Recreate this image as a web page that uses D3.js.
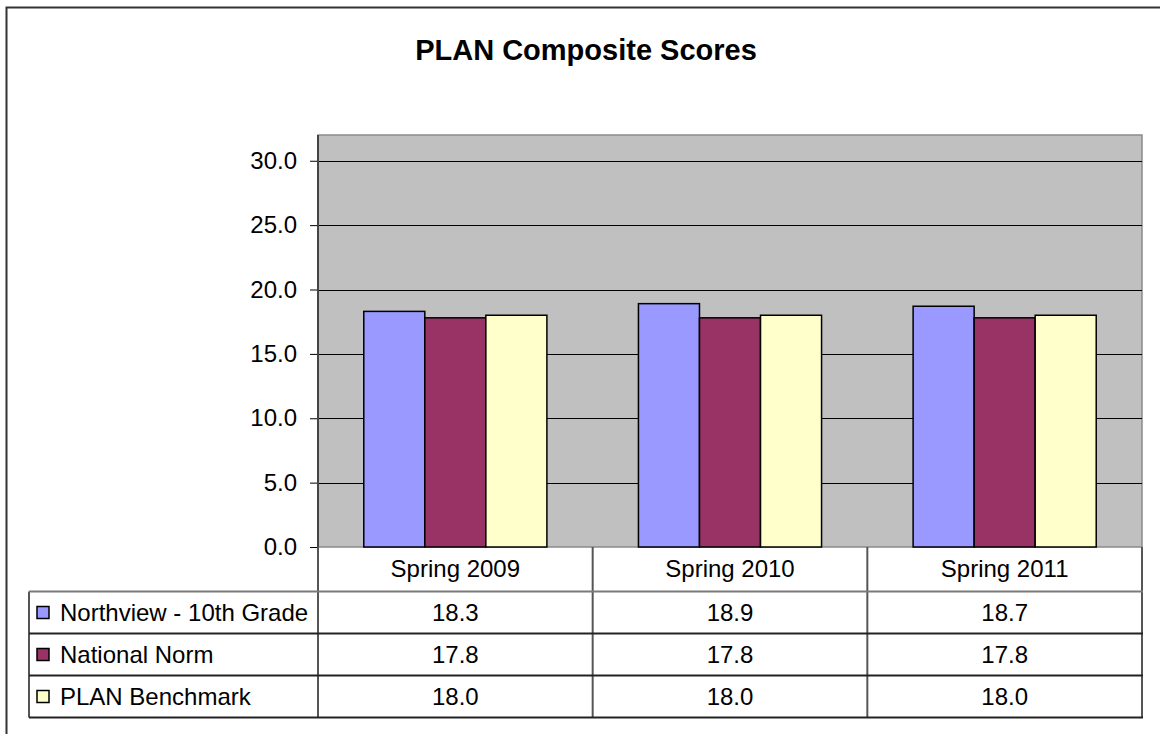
<!DOCTYPE html>
<html>
<head>
<meta charset="utf-8">
<script src="https://cdn.jsdelivr.net/npm/d3@7"></script>
<style>
  body { margin: 0; background: #fff; }
  text { font-family: "Liberation Sans", Arial, sans-serif; fill: #000; }
</style>
</head>
<body>
<svg id="chart" width="1160" height="734"></svg>
<script>
'use strict';

// data
const categories = ["Spring 2009", "Spring 2010", "Spring 2011"];
const seriesNames = ["Northview - 10th Grade", "National Norm", "PLAN Benchmark"];
const northview = [18.3, 18.9, 18.7];
const nationalNorm = [17.8, 17.8, 17.8];
const benchmark = [18.0, 18.0, 18.0];
const yTicks = [0, 5, 10, 15, 20, 25, 30];

const seriesValues = [northview, nationalNorm, benchmark];
const colors = ["#9999ff", "#993366", "#ffffcc"];

const svg = d3.select("#chart");

// layout
const plotLeft = 318, plotRight = 1142, plotTop = 135, plotBottom = 547;
const tableLeft = 29;
const headerBottom = 591.5;
const rowH = 42;

// outer frame (runs off the right and bottom edge)
svg.append("rect")
  .attr("x", 6.5).attr("y", 7.5)
  .attr("width", 1200).attr("height", 800)
  .attr("fill", "none")
  .attr("stroke", "#333")
  .attr("stroke-width", 2);

svg.append("text")
  .attr("x", 586).attr("y", 60)
  .attr("text-anchor", "middle")
  .attr("font-size", 29)
  .attr("font-weight", "bold")
  .text("PLAN Composite Scores");

const x0 = d3.scaleBand()
  .domain(categories)
  .range([plotLeft, plotRight]);

const barW = x0.bandwidth() / 4.5;
const x1 = d3.scaleBand()
  .domain(seriesNames)
  .range([0.75 * barW, 3.75 * barW]);

const y = d3.scaleLinear()
  .domain([0, 32])
  .range([plotBottom, plotTop]);

// plot background
svg.append("rect")
  .attr("x", plotLeft).attr("y", plotTop)
  .attr("width", plotRight - plotLeft)
  .attr("height", plotBottom - plotTop)
  .attr("fill", "#c0c0c0")
  .attr("stroke", "#8a8a8a")
  .attr("stroke-width", 1.5);

// gridlines
svg.append("g")
  .selectAll("line")
  .data(yTicks.filter(t => t > 0))
  .join("line")
  .attr("x1", plotLeft).attr("x2", plotRight)
  .attr("y1", d => Math.round(y(d)) + 0.5)
  .attr("y2", d => Math.round(y(d)) + 0.5)
  .attr("stroke", "#000")
  .attr("stroke-width", 1);

// bars
const groups = svg.append("g")
  .selectAll("g")
  .data(seriesNames)
  .join("g")
  .attr("fill", (d, i) => colors[i]);

groups.selectAll("rect")
  .data((d, i) => categories.map((c, j) => ({ cat: c, name: d, v: seriesValues[i][j] })))
  .join("rect")
  .attr("x", d => x0(d.cat) + x1(d.name))
  .attr("y", d => y(d.v))
  .attr("width", x1.bandwidth())
  .attr("height", d => y(0) - y(d.v))
  .attr("stroke", "#000")
  .attr("stroke-width", 1.5);

// y axis
const yAxis = d3.axisLeft(y)
  .tickValues(yTicks)
  .tickFormat(d3.format(".1f"))
  .tickSize(8)
  .tickPadding(13);

const ax = svg.append("g")
  .attr("transform", `translate(${plotLeft},0)`)
  .call(yAxis);
ax.select(".domain").remove();
ax.selectAll(".tick line").attr("stroke", "#000");
ax.selectAll(".tick text")
  .attr("font-size", 24)
  .attr("font-family", "'Liberation Sans', Arial, sans-serif")
  .attr("fill", "#000");

// axis line, continues into the table
svg.append("line")
  .attr("x1", plotLeft).attr("x2", plotLeft)
  .attr("y1", plotTop).attr("y2", plotBottom)
  .attr("stroke", "#444")
  .attr("stroke-width", 2);

// data table
const table = svg.append("g");
const tableBottom = headerBottom + rowH * 3;

// vertical lines
const colEdges = [plotLeft].concat(categories.map(c => x0(c) + x0.bandwidth()));
table.selectAll("line.v")
  .data(colEdges)
  .join("line")
  .attr("class", "v")
  .attr("x1", d => d).attr("x2", d => d)
  .attr("y1", plotBottom).attr("y2", tableBottom)
  .attr("stroke", "#555")
  .attr("stroke-width", 2);

table.append("line")
  .attr("x1", tableLeft).attr("x2", tableLeft)
  .attr("y1", headerBottom).attr("y2", tableBottom)
  .attr("stroke", "#555")
  .attr("stroke-width", 2);

// horizontal lines
const rowEdges = [0, 1, 2, 3].map(i => headerBottom + i * rowH);
table.selectAll("line.h")
  .data(rowEdges)
  .join("line")
  .attr("class", "h")
  .attr("x1", tableLeft).attr("x2", plotRight + 1)
  .attr("y1", d => d).attr("y2", d => d)
  .attr("stroke", (d, i) => i === 0 ? "#7a7a7a" : "#222")
  .attr("stroke-width", 2);

// category header
table.selectAll("text.cat")
  .data(categories)
  .join("text")
  .attr("class", "cat")
  .attr("x", d => x0(d) + x0.bandwidth() / 2)
  .attr("y", (plotBottom + headerBottom) / 2 + 8)
  .attr("text-anchor", "middle")
  .attr("font-size", 24)
  .text(d => d);

// rows
const rows = table.selectAll("g.row")
  .data(seriesNames)
  .join("g")
  .attr("class", "row")
  .attr("transform", (d, i) => `translate(0,${headerBottom + i * rowH + rowH / 2})`);

rows.append("rect")
  .attr("x", 37).attr("y", -6)
  .attr("width", 12).attr("height", 12)
  .attr("fill", (d, i) => colors[i])
  .attr("stroke", "#000")
  .attr("stroke-width", 1.5);

rows.append("text")
  .attr("x", 60).attr("y", 8.5)
  .attr("font-size", 24)
  .text(d => d);

rows.selectAll("text.val")
  .data((d, i) => seriesValues[i].map((v, j) => ({ v: v, cat: categories[j] })))
  .join("text")
  .attr("class", "val")
  .attr("x", d => x0(d.cat) + x0.bandwidth() / 2)
  .attr("y", 8.5)
  .attr("text-anchor", "middle")
  .attr("font-size", 24)
  .text(d => d3.format(".1f")(d.v));
</script>
</body>
</html>
